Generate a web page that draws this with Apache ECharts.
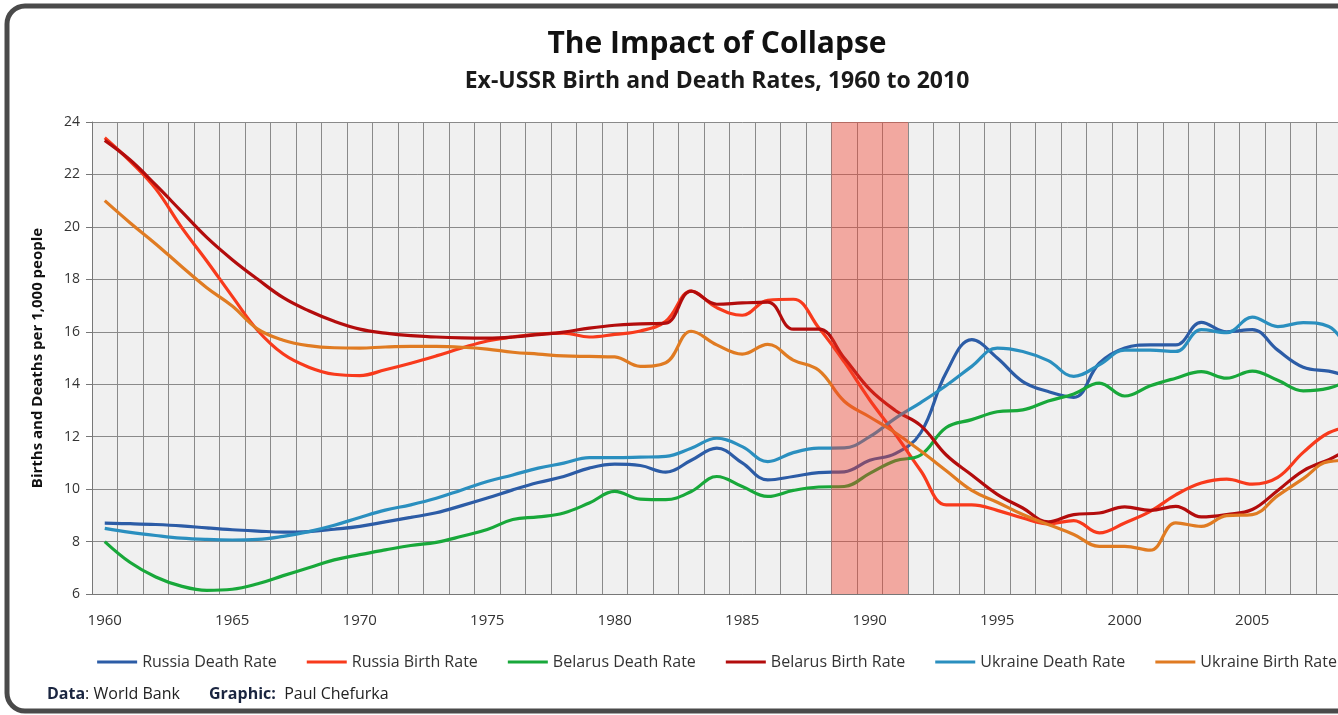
<!DOCTYPE html>
<html><head><meta charset="utf-8">
<script src="https://cdn.jsdelivr.net/npm/echarts@6/dist/echarts.min.js"></script>
<style>
html,body{margin:0;padding:0;width:1338px;height:715px;overflow:hidden;background:#fff}
#chart{position:absolute;left:0;top:0;width:1434px;height:715px}
</style></head>
<body><div id="chart"></div>
<script>
const years = ['1960','1961','1962','1963','1964','1965','1966','1967','1968','1969',
  '1970','1971','1972','1973','1974','1975','1976','1977','1978','1979',
  '1980','1981','1982','1983','1984','1985','1986','1987','1988','1989',
  '1990','1991','1992','1993','1994','1995','1996','1997','1998','1999',
  '2000','2001','2002','2003','2004','2005','2006','2007','2008','2009','2010'];

const russiaDeath = [8.7,8.68,8.65,8.6,8.52,8.45,8.4,8.36,8.38,8.47,
  8.58,8.75,8.92,9.1,9.37,9.66,9.97,10.25,10.48,10.8,
  10.95,10.9,10.65,11.1,11.56,11.0,10.35,10.48,10.63,10.66,
  11.1,11.35,12.15,14.45,15.7,15.0,14.1,13.72,13.5,14.8,
  15.38,15.5,15.5,16.36,16.0,16.08,15.3,14.65,14.5,14.3,14.3];

const russiaBirth = [23.4,22.5,21.45,20.0,18.7,17.35,16.05,15.15,14.65,14.38,
  14.33,14.55,14.8,15.08,15.38,15.65,15.8,15.91,15.95,15.8,
  15.9,16.03,16.4,17.55,16.92,16.63,17.2,17.24,16.15,14.85,
  13.4,12.1,10.7,9.4,9.4,9.19,8.9,8.68,8.8,8.33,
  8.71,9.15,9.78,10.23,10.38,10.19,10.45,11.4,12.15,12.4,12.5];

const belarusDeath = [8.0,7.2,6.65,6.3,6.14,6.18,6.39,6.7,7.0,7.3,
  7.5,7.68,7.85,7.97,8.2,8.46,8.84,8.94,9.09,9.47,
  9.91,9.62,9.6,9.91,10.48,10.1,9.72,9.95,10.08,10.1,
  10.6,11.08,11.3,12.35,12.65,12.95,13.02,13.36,13.63,14.04,
  13.55,13.94,14.23,14.48,14.23,14.5,14.15,13.75,13.85,14.2,14.4];

const belarusBirth = [23.3,22.55,21.6,20.6,19.6,18.75,18.0,17.3,16.8,16.4,
  16.1,15.95,15.85,15.8,15.77,15.76,15.8,15.89,15.99,16.14,
  16.25,16.3,16.33,17.55,17.05,17.1,17.13,16.1,16.1,15.0,
  13.8,13.0,12.42,11.3,10.54,9.8,9.28,8.75,9.03,9.09,
  9.32,9.19,9.34,8.94,9.03,9.22,9.95,10.7,11.12,11.5,11.4];

const ukraineDeath = [8.5,8.35,8.23,8.13,8.08,8.06,8.08,8.2,8.38,8.62,
  8.92,9.2,9.4,9.65,9.97,10.29,10.54,10.8,10.99,11.2,
  11.2,11.22,11.25,11.56,11.94,11.62,11.05,11.39,11.56,11.57,
  12.0,12.7,13.3,13.95,14.68,15.38,15.25,14.9,14.3,14.74,
  15.3,15.3,15.25,16.08,15.97,16.56,16.2,16.35,16.2,15.3,15.2];

const ukraineBirth = [21.0,20.15,19.35,18.5,17.68,16.98,16.1,15.68,15.47,15.39,
  15.38,15.42,15.44,15.44,15.41,15.34,15.22,15.15,15.08,15.06,
  15.04,14.68,14.82,16.02,15.5,15.15,15.52,14.92,14.53,13.35,
  12.75,12.15,11.45,10.7,9.95,9.5,9.03,8.65,8.27,7.82,
  7.82,7.67,8.71,8.58,8.99,9.03,9.75,10.4,11.05,11.1,10.8];

const yTicks = {min: 6, max: 24, step: 2};
const collapseFrom = 1989, collapseTo = 1991;

const seriesNames = ['Russia Death Rate','Russia Birth Rate','Belarus Death Rate','Belarus Birth Rate','Ukraine Death Rate','Ukraine Birth Rate'];
const seriesData = [russiaDeath, russiaBirth, belarusDeath, belarusBirth, ukraineDeath, ukraineBirth];
const seriesColors = ['#2c5ca6','#f83a1c','#18a83a','#b30c0c','#2a8fbf','#e07b22'];

const FONT = '"Open Sans", "DejaVu Sans", sans-serif';
const chart = echarts.init(document.getElementById('chart'), null, {renderer: 'canvas'});

const lineSeries = seriesNames.map((n, i) => ({
  name: n, type: 'line', data: seriesData[i], smooth: 0.4, showSymbol: false,
  lineStyle: {width: 3.2, color: seriesColors[i]}, itemStyle: {color: seriesColors[i]}, z: 3
}));

lineSeries.push({
  name: 'collapse', type: 'line', xAxisIndex: 1, data: [], z: 5,
  markArea: {silent: true, z: 5, itemStyle: {color: 'rgba(245,60,40,0.40)'},
    data: [[{xAxis: collapseFrom - 0.5}, {xAxis: collapseTo + 0.5}]]}
});

chart.setOption({
  animation: false,
  backgroundColor: '#ffffff',
  title: [
    {text: 'The Impact of Collapse', left: 'center', top: 24,
      textStyle: {fontFamily: FONT, fontSize: 30, fontWeight: 'bold', color: '#111'}},
    {text: 'Ex-USSR Birth and Death Rates, 1960 to 2010', left: 'center', top: 65,
      textStyle: {fontFamily: FONT, fontSize: 23, fontWeight: 'bold', color: '#1a1a1a'}}
  ],
  grid: {left: 92, top: 122, width: 1300.5, height: 472, show: true, backgroundColor: '#f0f0f0', borderWidth: 0},
  xAxis: [
    {type: 'category', data: years, boundaryGap: true,
      axisLine: {lineStyle: {color: '#777', width: 1}},
      axisTick: {interval: 0, length: 8, lineStyle: {color: '#777'}},
      axisLabel: {interval: 4, margin: 19, fontSize: 15, fontFamily: FONT, color: '#333'},
      splitLine: {show: true, interval: 0, lineStyle: {color: '#8a8a8a', width: 1}}},
    {type: 'value', min: +years[0] - 0.5, max: +years[years.length - 1] + 0.5, show: false}
  ],
  yAxis: {type: 'value', min: yTicks.min, max: yTicks.max, interval: yTicks.step,
    name: 'Births and Deaths per 1,000 people', nameLocation: 'middle', nameGap: 47,
    nameTextStyle: {fontFamily: FONT, fontSize: 15, fontWeight: 'bold', color: '#111'},
    axisLine: {show: true, lineStyle: {color: '#777'}},
    axisTick: {show: true, length: 6, lineStyle: {color: '#777'}},
    axisLabel: {fontSize: 14, margin: 12, fontFamily: FONT, color: '#333'},
    splitLine: {show: true, lineStyle: {color: '#8a8a8a', width: 1}}},
  legend: {data: seriesNames, top: 649, left: 'center', icon: 'rect', itemWidth: 40, itemHeight: 3,
    itemGap: 30, textStyle: {fontFamily: FONT, fontSize: 16, color: '#333'}},
  graphic: [
    {type: 'rect', silent: true, z: 100, shape: {x: 7, y: 6, width: 1420, height: 705, r: 18},
      style: {fill: 'none', stroke: '#4a4a4a', lineWidth: 5}},
    {type: 'text', left: 47, top: 686, z: 100,
      style: {text: '{b|Data}: World Bank', fontFamily: FONT, fontSize: 16, fill: '#222',
        rich: {b: {fontFamily: FONT, fontSize: 16, fontWeight: 'bold', fill: '#1a2540'}}}},
    {type: 'text', left: 209, top: 686, z: 100,
      style: {text: '{b|Graphic:}  Paul Chefurka', fontFamily: FONT, fontSize: 16, fill: '#222',
        rich: {b: {fontFamily: FONT, fontSize: 16, fontWeight: 'bold', fill: '#1a2540'}}}}
  ],
  series: lineSeries
});
</script>
</body></html>
